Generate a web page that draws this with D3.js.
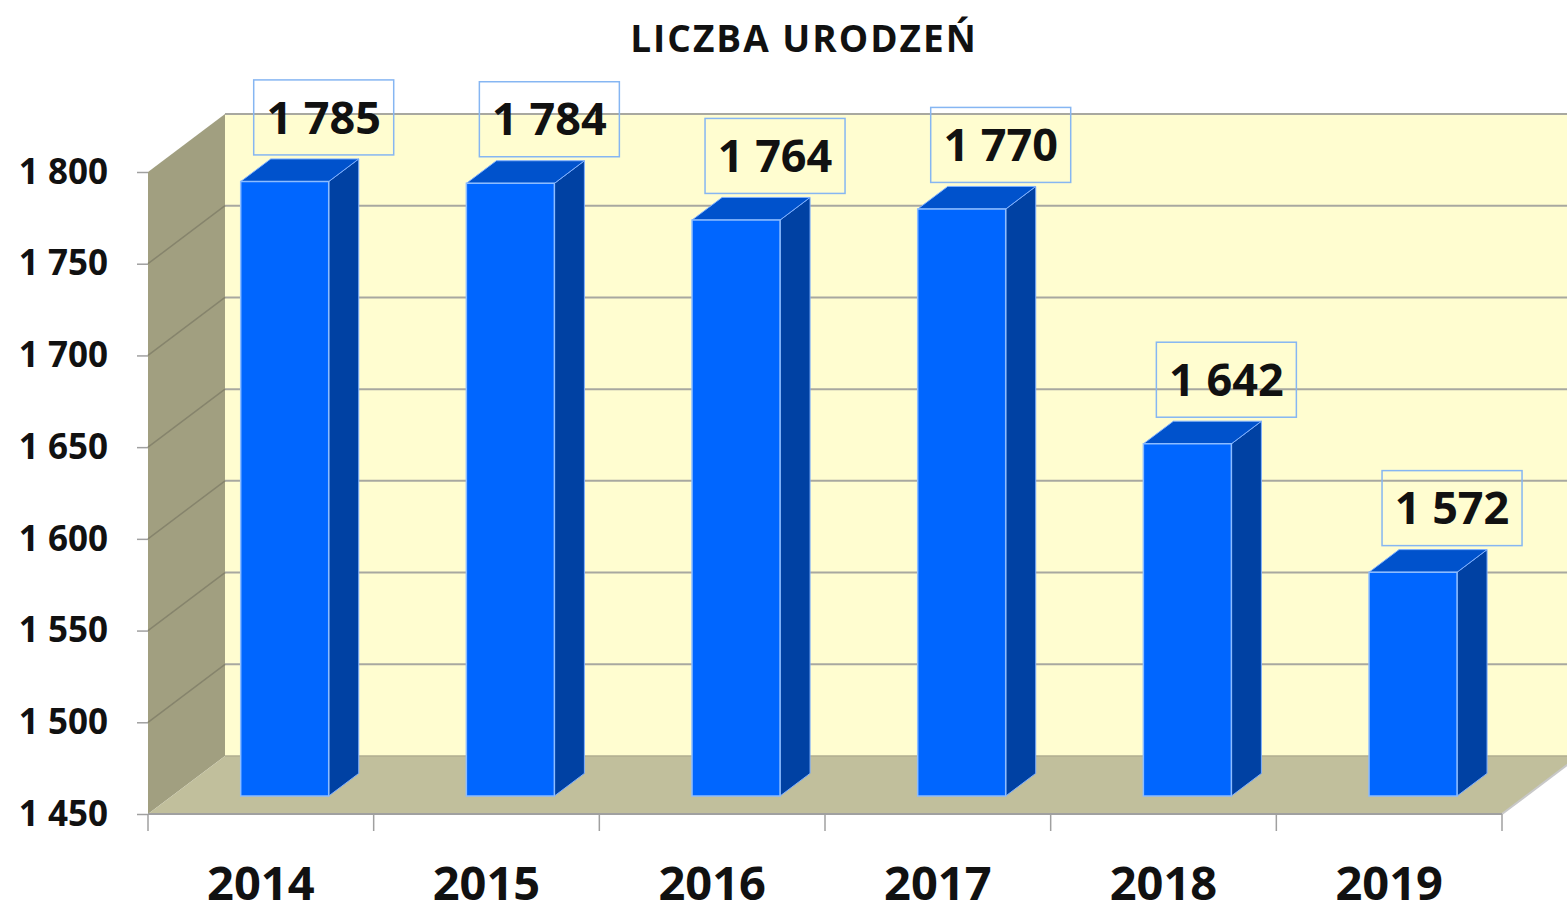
<!DOCTYPE html>
<html>
<head>
<meta charset="utf-8">
<script src="https://cdn.jsdelivr.net/npm/d3@7"></script>
<style>
  html, body { margin: 0; padding: 0; background: #fff; }
  svg { display: block; font-family: "Open Sans", sans-serif; }
</style>
</head>
<body>
<div id="chart"></div>
<script>
// data
var years = ["2014", "2015", "2016", "2017", "2018", "2019"];
var births = [1785, 1784, 1764, 1770, 1642, 1572];
var yTicks = [1450, 1500, 1550, 1600, 1650, 1700, 1750, 1800];
var title = "LICZBA URODZEŃ";

var width = 1567, height = 908;

// 3d depth of the floor / walls
var DX = 77, DY = -58;
var f0 = 0.31, f1 = 0.70; // bar front / back as fraction of depth

var svg = d3
  .select("#chart")
  .append("svg")
  .attr("width", width)
  .attr("height", height);

var pl = d3.formatLocale({ decimal: ",", thousands: "\u00a0", grouping: [3], currency: ["", " zł"] });
var fmt = pl.format(",d");

var y = d3.scaleLinear().domain([1450, 1800]).range([814, 172]);
var x = d3.scaleBand().domain(years).range([148, 1502]).padding(0);
var x0 = x.range()[0], x1 = x.range()[1];
var yb = y(1450), yt = y(1800);

function pts(a) {
  return a.map(function (p) { return p[0] + "," + p[1]; }).join(" ");
}

// back wall
svg.append("polygon")
  .attr("points", pts([[x0 + DX, yt + DY], [x1 + DX, yt + DY], [x1 + DX, yb + DY], [x0 + DX, yb + DY]]))
  .style("fill", "#fffdd0");

// back wall gridlines
svg.append("g").selectAll("line")
  .data(yTicks.slice(1))
  .enter().append("line")
  .attr("x1", x0 + DX).attr("x2", x1 + DX)
  .attr("y1", function (d) { return y(d) + DY; })
  .attr("y2", function (d) { return y(d) + DY; })
  .style("stroke", "#a8a8a0").style("stroke-width", 2);

// side wall
svg.append("polygon")
  .attr("points", pts([[x0, yt], [x0 + DX, yt + DY], [x0 + DX, yb + DY], [x0, yb]]))
  .style("fill", "#a19f80");

svg.append("g").selectAll("line")
  .data(yTicks.slice(1, -1))
  .enter().append("line")
  .attr("x1", x0).attr("x2", x0 + DX)
  .attr("y1", function (d) { return y(d); })
  .attr("y2", function (d) { return y(d) + DY; })
  .style("stroke", "#86846c").style("stroke-width", 1.5);

// floor
svg.append("polygon")
  .attr("points", pts([[x0, yb], [x1, yb], [x1 + DX, yb + DY], [x0 + DX, yb + DY]]))
  .style("fill", "#c1bf9c");
svg.append("line")
  .attr("x1", x0 + DX).attr("x2", x1 + DX)
  .attr("y1", yb + DY).attr("y2", yb + DY)
  .style("stroke", "#b0ae90").style("stroke-width", 1.5);
svg.append("line")
  .attr("x1", x1).attr("x2", x1 + DX)
  .attr("y1", yb).attr("y2", yb + DY)
  .style("stroke", "#c8c8c8").style("stroke-width", 2);

// bars
var bw = x.bandwidth() * 0.39;
var bars = svg.append("g").selectAll("g")
  .data(births)
  .enter().append("g");

function faces(d, i) {
  var l = x(years[i]) + x.bandwidth() / 2 - bw / 2;
  var r = l + bw;
  var ty = y(d), by = y(1450);
  var ax = DX * f0, ay = DY * f0, bx = DX * f1, byy = DY * f1;
  return {
    front: [[l + ax, ty + ay], [r + ax, ty + ay], [r + ax, by + ay], [l + ax, by + ay]],
    side: [[r + ax, ty + ay], [r + bx, ty + byy], [r + bx, by + byy], [r + ax, by + ay]],
    top: [[l + ax, ty + ay], [l + bx, ty + byy], [r + bx, ty + byy], [r + ax, ty + ay]],
    cx: (l + r) / 2 + ax,
    topBack: ty + byy
  };
}

bars.append("polygon")
  .attr("points", function (d, i) { return pts(faces(d, i).side); })
  .style("fill", "#0041a3").style("stroke", "#7fb0ff").style("stroke-width", 1);
bars.append("polygon")
  .attr("points", function (d, i) { return pts(faces(d, i).top); })
  .style("fill", "#0052cc").style("stroke", "#7fb0ff").style("stroke-width", 1);
bars.append("polygon")
  .attr("points", function (d, i) { return pts(faces(d, i).front); })
  .style("fill", "#0066ff").style("stroke", "#8cbcff").style("stroke-width", 1.5);

// value labels
var lw = 140, lh = 75, loff = 39;
bars.append("rect")
  .attr("x", function (d, i) { return faces(d, i).cx + loff - lw / 2; })
  .attr("y", function (d, i) { return faces(d, i).topBack - 4 - lh; })
  .attr("width", lw).attr("height", lh)
  .style("fill", "none").style("stroke", "#86b6f2").style("stroke-width", 1.5);
bars.append("text")
  .attr("x", function (d, i) { return faces(d, i).cx + loff; })
  .attr("y", function (d, i) { return faces(d, i).topBack - 4 - lh / 2; })
  .attr("dy", "0.36em")
  .attr("text-anchor", "middle")
  .style("font-size", "45px").style("font-weight", 700).style("fill", "#111")
  .text(function (d) { return fmt(d); });

// y axis
var yAxis = svg.append("g")
  .attr("transform", "translate(" + x0 + ",0)")
  .call(d3.axisLeft(y).tickValues(yTicks).tickSize(11).tickPadding(29).tickFormat(fmt));
yAxis.select(".domain").remove();
yAxis.selectAll(".tick line").style("stroke", "#a0a0a0").style("stroke-width", 1.5);
yAxis.selectAll("text")
  .style("font-size", "35px").style("font-weight", 700).style("fill", "#111")
  .style("font-family", "'Open Sans', sans-serif");

// x axis
svg.append("line")
  .attr("x1", x0).attr("x2", x1).attr("y1", yb).attr("y2", yb)
  .style("stroke", "#a0a0a0").style("stroke-width", 2);
svg.append("g").selectAll("line")
  .data(years.concat(["end"]))
  .enter().append("line")
  .attr("x1", function (d, i) { return x0 + i * x.step(); })
  .attr("x2", function (d, i) { return x0 + i * x.step(); })
  .attr("y1", yb).attr("y2", yb + 17)
  .style("stroke", "#a0a0a0").style("stroke-width", 1.5);

var xAxis = svg.append("g")
  .attr("transform", "translate(0," + yb + ")")
  .call(d3.axisBottom(x).tickSize(0).tickPadding(53));
xAxis.select(".domain").remove();
xAxis.selectAll("text")
  .style("font-size", "47px").style("font-weight", 700).style("fill", "#111")
  .style("font-family", "'Open Sans', sans-serif");

// title
svg.append("text")
  .attr("x", 804).attr("y", 52)
  .attr("text-anchor", "middle")
  .style("font-size", "37px").style("font-weight", 700).style("fill", "#111")
  .style("letter-spacing", "2px")
  .text(title);
</script>
</body>
</html>
